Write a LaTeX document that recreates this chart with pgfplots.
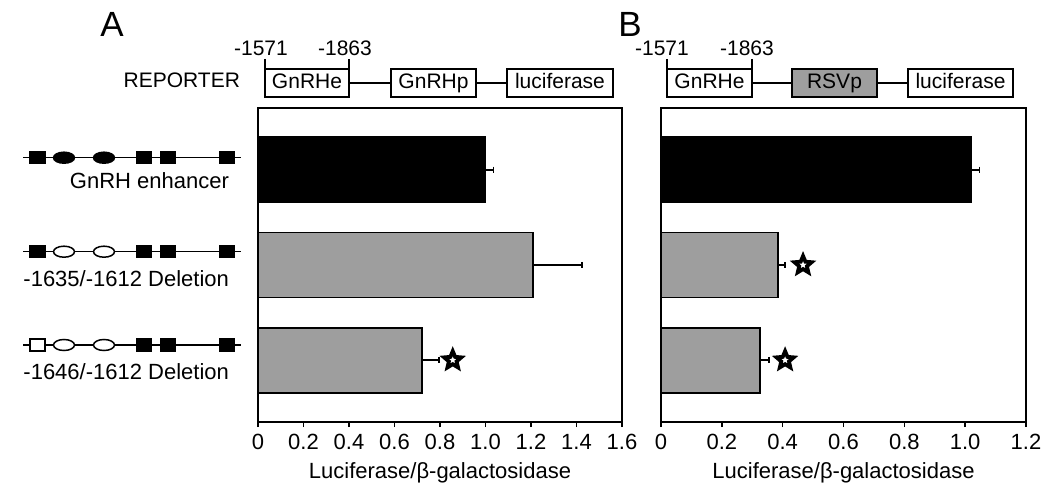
\documentclass[border=0pt]{standalone}
\usepackage{fontspec}
\setmainfont{Liberation Sans}
\usepackage{pgfplots}
\pgfplotsset{compat=1.18}
\definecolor{bargray}{RGB}{158,158,158}

% outlined five-point star used for the significance marks
\pgfdeclareplotmark{ostar}{%
  \pgfpathmoveto{\pgfpointpolar{90}{\pgfplotmarksize}}%
  \pgfpathlineto{\pgfpointpolar{126}{0.45\pgfplotmarksize}}%
  \pgfpathlineto{\pgfpointpolar{162}{\pgfplotmarksize}}%
  \pgfpathlineto{\pgfpointpolar{198}{0.45\pgfplotmarksize}}%
  \pgfpathlineto{\pgfpointpolar{234}{\pgfplotmarksize}}%
  \pgfpathlineto{\pgfpointpolar{270}{0.45\pgfplotmarksize}}%
  \pgfpathlineto{\pgfpointpolar{306}{\pgfplotmarksize}}%
  \pgfpathlineto{\pgfpointpolar{342}{0.45\pgfplotmarksize}}%
  \pgfpathlineto{\pgfpointpolar{18}{\pgfplotmarksize}}%
  \pgfpathlineto{\pgfpointpolar{54}{0.45\pgfplotmarksize}}%
  \pgfpathclose
  \pgfusepathqfillstroke
}

\pgfplotsset{
  panel/.style={
    scale only axis, width=182pt, height=157pt, anchor=south west,
    y dir=reverse, ymin=-0.65, ymax=2.65, ytick=\empty,
    xmin=0, tick align=outside, xtick pos=bottom, major tick length=2.5pt,
    axis line style={line width=1pt}, tick style={line width=0.8pt, black},
    bar width=0.684, clip=false,
    font=\fontsize{11}{13}\selectfont,
    /pgf/number format/assume math mode=true,
    xlabel={Luciferase/β-galactosidase},
    xlabel style={at={(axis description cs:0.5,-0.179)}, anchor=base},
  },
  hbar/.style={xbar, bar shift=0pt, draw=black, line width=0.9pt, fill=#1,
    error bars/.cd, x dir=plus, x explicit, error mark=|,
    error bar style={line width=0.9pt, black},
    error mark options={black, mark size=1.6pt, line width=0.9pt}},
  sig/.style={only marks, mark=ostar, mark size=4.5pt,
    mark options={fill=white, draw=black, line width=1.9pt}},
}

\begin{document}
\begin{tikzpicture}[x=0.5pt,y=-0.5pt]
\path[use as bounding box] (0,0) rectangle (1050,491);

% panel A
\begin{axis}[panel, at={(129pt,-211pt)}, xmax=1.6,
  xtick={0,0.2,0.4,0.6,0.8,1.0,1.2,1.4,1.6},
  xticklabels={0,0.2,0.4,0.6,0.8,1.0,1.2,1.4,1.6}]
\addplot[hbar=black] coordinates {(1.00,0) +- (0.035,0)};
\addplot[hbar=bargray] coordinates {(1.21,1) +- (0.215,0)};
\addplot[hbar=bargray] coordinates {(0.72,2) +- (0.077,0)};
\addplot[sig] coordinates {(0.856,2)};
\end{axis}

% panel B
\begin{axis}[panel, at={(330.5pt,-211pt)}, width=182.5pt, xmax=1.2,
  xtick={0,0.2,0.4,0.6,0.8,1.0,1.2},
  xticklabels={0,0.2,0.4,0.6,0.8,1.0,1.2}]
\addplot[hbar=black] coordinates {(1.02,0) +- (0.027,0)};
\addplot[hbar=bargray] coordinates {(0.384,1) +- (0.024,0)};
\addplot[hbar=bargray] coordinates {(0.325,2) +- (0.030,0)};
\addplot[sig] coordinates {(0.467,1)};
\addplot[sig] coordinates {(0.408,2)};
\end{axis}

% construct diagrams on the left
\foreach \yy/\ea/\sa in {157.7/black/black, 251.7/white/black, 345/white/white}{
  \draw[line width=0.75pt] (23,\yy) -- (241,\yy);
  \filldraw[fill=\sa, line width=0.75pt] (30,\yy-6) rectangle (45,\yy+6);
  \filldraw[fill=\ea, line width=0.75pt] (64,\yy) ellipse [x radius=10.5, y radius=5.5];
  \filldraw[fill=\ea, line width=0.75pt] (104,\yy) ellipse [x radius=10.5, y radius=5.5];
  \foreach \cx in {144,168,227}
    \filldraw[fill=black, line width=0.75pt] (\cx-7.5,\yy-6) rectangle (\cx+7.5,\yy+6);
}
\begin{scope}[every node/.style={anchor=base east, font=\fontsize{11}{13}\selectfont}]
\node at (236,189) {GnRH enhancer};
\node at (236,287) {-1635/-1612 Deletion};
\node at (236,380) {-1646/-1612 Deletion};
\end{scope}

% panel letters
\node[anchor=base, font=\fontsize{17.5}{20}\selectfont] at (112,37) {A};
\node[anchor=base, font=\fontsize{17.5}{20}\selectfont] at (630,37) {B};

% reporter constructs
\begin{scope}[every node/.style={anchor=base, font=\fontsize{10.5}{12}\selectfont}]
\node[anchor=base east] at (247,88) {REPORTER};
\draw[line width=0.8pt] (349,83) -- (391,83) (476,83) -- (507,83);
\draw[line width=0.8pt] (752,83) -- (792,83) (877,83) -- (908,83);
\draw[line width=0.8pt] (265,59) -- (265,69) (349,59) -- (349,69);
\draw[line width=0.8pt] (667,59) -- (667,69) (752,59) -- (752,69);
\draw[line width=1pt, fill=white] (265,69) rectangle (349,97);
\draw[line width=1pt, fill=white] (391,69) rectangle (476,97);
\draw[line width=1pt, fill=white] (507,69) rectangle (613,97);
\draw[line width=1pt, fill=white] (667,69) rectangle (752,97);
\draw[line width=1pt, fill=bargray] (792,69) rectangle (877,97);
\draw[line width=1pt, fill=white] (908,69) rectangle (1013,97);
\node at (307,89) {GnRHe};
\node at (433.5,89) {GnRHp};
\node at (560,89) {luciferase};
\node at (709.5,89) {GnRHe};
\node at (834.5,89) {RSVp};
\node at (960.5,89) {luciferase};
\node at (261,56) {-1571};
\node at (345,56) {-1863};
\node at (662,56) {-1571};
\node at (747,56) {-1863};
\end{scope}
\end{tikzpicture}
\end{document}
